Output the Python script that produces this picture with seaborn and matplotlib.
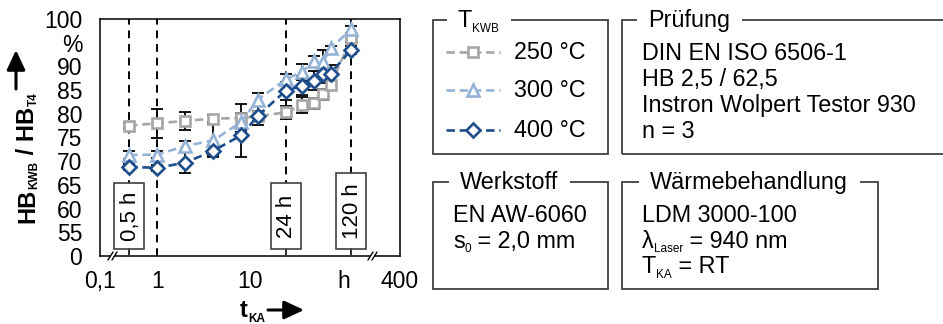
import numpy as np
import pandas as pd
import matplotlib
matplotlib.use("Agg")
import matplotlib.pyplot as plt
import seaborn as sns
from matplotlib.lines import Line2D
from matplotlib.patches import Rectangle, Polygon
from matplotlib.ticker import NullLocator

# ---------------- data ----------------
t_h = [0.5, 1, 2, 4, 8, 12, 24, 36, 48, 60, 72, 120]
hb_250 = [77.5, 78.0, 78.5, 79.0, 79.1, 79.5, 80.3, 81.8, 82.2, 84.1, 86.0, 95.9]
err_250 = [0.6, 3.1, 1.9, 0.7, 2.9, 1.0, 1.4, 1.7, 1.1, 1.2, 1.0, 0.8]
hb_300 = [71.3, 71.4, 73.2, 74.4, 78.3, 83.0, 87.3, 88.9, 91.1, 91.0, 93.8, 97.8]
err_300 = [0.8, 0.8, 1.0, 3.5, 1.0, 1.4, 1.1, 1.7, 1.1, 2.4, 0.6, 0.7]
hb_400 = [68.8, 68.6, 69.7, 72.2, 75.5, 79.6, 84.9, 85.9, 87.0, 88.4, 88.5, 93.5]
err_400 = [0.6, 0.6, 2.2, 1.2, 4.6, 2.0, 1.9, 2.0, 2.0, 2.0, 1.8, 0.8]
series_labels = ["250 °C", "300 °C", "400 °C"]
marker_list = ["s", "^", "D"]
color_list = ["#A6A6A6", "#95B3D7", "#1F4E8C"]

marked_times = [0.5, 1, 24, 120]
marked_labels = ["0,5 h", None, "24 h", "120 h"]

x_ticks = [0.244, 1, 10, 100, 400]
x_ticklabels = ["0,1", "1", "10", "h", "400"]
y_ticks = [50, 55, 60, 65, 70, 75, 80, 85, 90, 95, 100]
y_ticklabels = ["0", "55", "60", "65", "70", "75", "80", "85", "90", "%", "100"]

# ---------------- style ----------------
sns.set_theme(style="white")
plt.rcParams["font.family"] = ["Liberation Sans", "DejaVu Sans"]
for k in ["text.color", "axes.labelcolor", "xtick.color", "ytick.color", "axes.edgecolor"]:
    plt.rcParams[k] = "black"

W, H = 943, 324
fig = plt.figure(figsize=(W / 100, H / 100), dpi=100)
ax = fig.add_axes([100 / W, 1 - 256 / H, 300 / W, 237 / H])
renderer = fig.canvas.get_renderer()


def fx(x):
    return x / W


def fy(y):
    return 1 - y / H


FS = 16.8
MS = 7.5
MEW = 1.9
LW = 1.9
DASH = (0, (3.2, 1.8))


def msize(m):
    return MS + (1.6 if m == "^" else 0) - (0.7 if m == "D" else 0)


frames = []
for lab, vals, errs in zip(series_labels, [hb_250, hb_300, hb_400], [err_250, err_300, err_400]):
    frames.append(pd.DataFrame({"t": t_h, "hb": vals, "err": errs, "T": lab}))
df = pd.concat(frames, ignore_index=True)

for lab in series_labels:
    d = df[df["T"] == lab]
    ax.errorbar(d["t"], d["hb"], yerr=d["err"], fmt="none", ecolor="black",
                elinewidth=1.3, capsize=4.5, capthick=1.3, zorder=2)

for i, lab in enumerate(series_labels):
    d = df[df["T"] == lab]
    sns.lineplot(data=d, x="t", y="hb", ax=ax, color=color_list[i], marker=marker_list[i],
                 markersize=msize(marker_list[i]), markerfacecolor="white",
                 markeredgecolor=color_list[i], markeredgewidth=MEW, linewidth=LW,
                 linestyle=DASH, zorder=3 + i, legend=False, errorbar=None)

ax.set_xscale("log")
ax.set_xlim(0.244, 400)
ax.set_ylim(50, 100)
ax.set_xticks(x_ticks)
ax.set_xticklabels(x_ticklabels)
ax.xaxis.set_minor_locator(NullLocator())
ax.set_yticks(y_ticks)
ax.set_yticklabels(y_ticklabels)
ax.set_xlabel("")
ax.set_ylabel("")
ax.tick_params(axis="both", direction="out", length=5.8, width=1.1, labelsize=16.5,
               colors="black")
ax.tick_params(axis="y", pad=7)
ax.tick_params(axis="x", pad=4)
for sp in ax.spines.values():
    sp.set_color("black")
    sp.set_linewidth(1.1)
    sp.set_visible(True)

for tm in marked_times:
    ax.axvline(tm, color="black", linestyle=(0, (4, 3)), linewidth=1.4, zorder=1)

fig.canvas.draw()
box_h = {"0,5 h": 66, "24 h": 66, "120 h": 76}
for tm, tl in zip(marked_times, marked_labels):
    if tl is None:
        continue
    xp, yd = ax.transData.transform((tm, 50))
    ybot_px = 249
    bh = box_h[tl]
    x0 = (xp - 15) / W
    y0 = (H - ybot_px) / H
    fig.add_artist(Rectangle((x0, y0), 30 / W, bh / H, transform=fig.transFigure,
                             facecolor="white", edgecolor="#404040", linewidth=1.2, zorder=5))
    fig.add_artist(Line2D([xp / W, xp / W], [yd / H, y0], transform=fig.transFigure,
                          color="#404040", linewidth=1.2, zorder=5))
    fig.text(xp / W + 1 / W, y0 + bh / 2 / H, tl, rotation=90, ha="center", va="center",
             fontsize=16, color="black", zorder=6)

# axis breaks
for xb in [113, 373]:
    yb = 256
    fig.add_artist(Polygon([(fx(xb - 5), fy(yb + 4)), (fx(xb), fy(yb - 4)),
                            (fx(xb + 4), fy(yb - 4)), (fx(xb - 1), fy(yb + 4))],
                           closed=True, transform=fig.transFigure, facecolor="white",
                           edgecolor="none", zorder=7))
    for dx in (-5, -1):
        fig.add_artist(Line2D([fx(xb + dx), fx(xb + dx + 5)], [fy(yb + 4), fy(yb - 4)],
                              transform=fig.transFigure, color="black", linewidth=1.0, zorder=8))


def rich(x, y, pieces, rotation=0, weight="normal", zorder=3):
    """pieces: (text, fontsize, baseline drop px). x,y in px from top-left, baseline start."""
    cur = 0.0
    arts = []
    for txt, fs, drop in pieces:
        if rotation == 0:
            px, py = x + cur, y + drop
        else:
            px, py = x + drop, y - cur
        t = fig.text(fx(px), fy(py), txt, fontsize=fs, fontweight=weight, ha="left",
                     va="baseline", rotation=rotation, rotation_mode="anchor", zorder=zorder)
        bb = t.get_window_extent(renderer)
        cur += bb.width if rotation == 0 else bb.height
        arts.append(t)
    return cur


# axis labels with arrows
rich(34, 223, [("HB", 17, 0), ("KWB", 8.5, 3), (" / HB", 17, 0), ("T4", 8.5, 3)],
     rotation=90, weight="bold")
ax.annotate("", xy=(16, H - 50), xytext=(16, H - 89), xycoords="figure pixels",
            textcoords="figure pixels",
            arrowprops=dict(arrowstyle="-|>,head_length=0.6,head_width=0.28", color="black",
                            lw=2.2, mutation_scale=20, shrinkA=0, shrinkB=0))
rich(240, 317, [("t", 17, 0), ("KA", 8.5, 5)], weight="bold")
ax.annotate("", xy=(304, H - 310), xytext=(268, H - 310), xycoords="figure pixels",
            textcoords="figure pixels",
            arrowprops=dict(arrowstyle="-|>,head_length=0.6,head_width=0.28", color="black",
                            lw=2.2, mutation_scale=20, shrinkA=0, shrinkB=0))


# ---------------- info panels ----------------
def fieldset(x0, y0, x1, y1, title_pieces, tx):
    fig.add_artist(Rectangle((fx(x0), fy(y1)), (x1 - x0) / W, (y1 - y0) / H,
                             transform=fig.transFigure, fill=False, edgecolor="#404040",
                             linewidth=1.3, zorder=1))
    w = rich(tx, y0 + 7, title_pieces, zorder=3)
    fig.add_artist(Rectangle((fx(tx - 11), fy(y0 + 3)), (w + 23) / W, 6 / H,
                             transform=fig.transFigure, facecolor="white", edgecolor="none",
                             zorder=2))


fieldset(433, 20, 608, 154, [("T", FS, 0), ("KWB", 8.5, 5)], 458)
fieldset(622, 20, 960, 154, [("Prüfung", FS, 0)], 648)
fieldset(433, 182, 608, 289, [("Werkstoff", FS, 0)], 460)
fieldset(622, 182, 878, 289, [("Wärmebehandlung", FS, 0)], 650)

leg_y = [52, 90, 130]
for i, lab in enumerate(series_labels):
    y = leg_y[i]
    fig.add_artist(Line2D([fx(446), fx(500)], [fy(y), fy(y)], transform=fig.transFigure,
                          color=color_list[i], linewidth=LW, linestyle=DASH))
    fig.add_artist(Line2D([fx(473)], [fy(y)], transform=fig.transFigure, marker=marker_list[i],
                          markersize=msize(marker_list[i]), markerfacecolor="white",
                          markeredgecolor=color_list[i], markeredgewidth=MEW, linestyle="none"))
    rich(514, y + 7, [(lab, FS, 0)])

for i, line in enumerate(["DIN EN ISO 6506-1", "HB 2,5 / 62,5", "Instron Wolpert Testor 930", "n = 3"]):
    rich(642, 60 + i * 26, [(line, FS, 0)])

rich(453, 222, [("EN AW-6060", FS, 0)])
rich(453, 248, [("s", FS, 0), ("0", 8.5, 4), (" = 2,0 mm", FS, 0)])

rich(642, 222, [("LDM 3000-100", FS, 0)])
rich(642, 248, [("λ", FS, 0), ("Laser", 8.5, 4), (" = 940 nm", FS, 0)])
rich(642, 273, [("T", FS, 0), ("KA", 8.5, 5), (" = RT", FS, 0)])

fig.savefig("out.png", dpi=100)
